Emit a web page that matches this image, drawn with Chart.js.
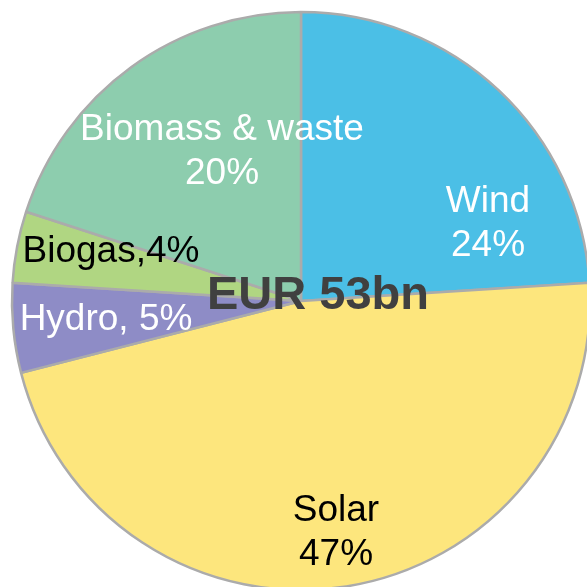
<!DOCTYPE html>
<html>
<head>
<meta charset="utf-8">
<script src="https://cdn.jsdelivr.net/npm/chart.js@4"></script>
<style>
html,body{margin:0;padding:0;background:#fff;overflow:hidden;width:587px;height:587px;}
canvas{display:block;}
</style>
</head>
<body>
<canvas id="c" width="602" height="602"></canvas>
<script>
// Data
const categories = ["Wind", "Solar", "Hydro", "Biogas", "Biomass & waste"];
const shares = [24, 47, 5, 4, 20];
const labelLines = [["Wind", "24%"], ["Solar", "47%"], ["Hydro, 5%"], ["Biogas,4%"], ["Biomass & waste", "20%"]];
const centerTitle = "EUR 53bn";

// Styles
const colors = ["#4BBFE6", "#FDE67D", "#8E8CC6", "#B0D682", "#8DCDAE"];
const textColors = ["#ffffff", "#000000", "#ffffff", "#000000", "#ffffff"];
const labelOffsets = [[187, -77], [35, 232], [-195, 19], [-190, -49], [-79, -149]];

const labelPlugin = {
  id: "labels",
  afterDatasetsDraw(chart) {
    const ctx = chart.ctx;
    const meta = chart.getDatasetMeta(0);
    const cx = meta.data[0].x, cy = meta.data[0].y;
    ctx.save();
    ctx.textBaseline = "middle";
    ctx.textAlign = "center";
    ctx.font = "37px 'Liberation Sans', Arial, sans-serif";
    labelLines.forEach((lines, i) => {
      ctx.fillStyle = textColors[i];
      const n = lines.length;
      lines.forEach((ln, j) => {
        const y = cy + labelOffsets[i][1] + (j - (n - 1) / 2) * 44;
        ctx.fillText(ln, cx + labelOffsets[i][0], y);
      });
    });
    ctx.font = "bold 47px 'Liberation Sans', Arial, sans-serif";
    ctx.fillStyle = "#404040";
    ctx.fillText(centerTitle, cx + 17, cy - 5);
    ctx.restore();
  }
};

new Chart(document.getElementById("c"), {
  type: "pie",
  data: {
    labels: categories,
    datasets: [{
      data: shares,
      backgroundColor: colors,
      borderColor: "#ABABAB",
      borderWidth: 2.5,
      clip: false
    }]
  },
  options: {
    responsive: false,
    devicePixelRatio: 1,
    animation: false,
    radius: 289,
    layout: { padding: 0 },
    plugins: { legend: { display: false }, tooltip: { enabled: false } }
  },
  plugins: [labelPlugin]
});
</script>
</body>
</html>
